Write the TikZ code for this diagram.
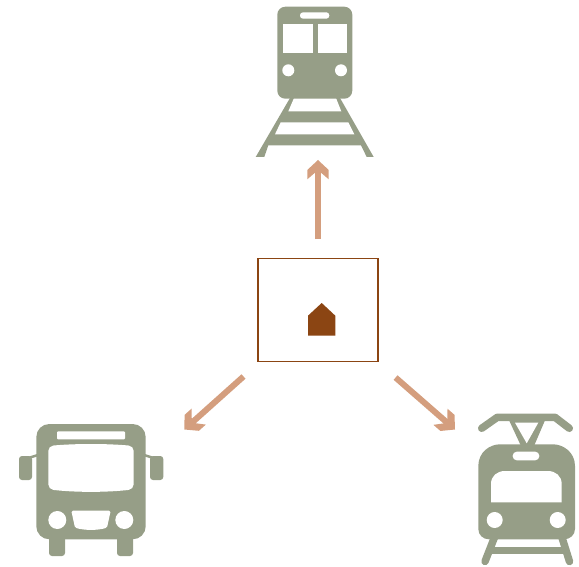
\documentclass[tikz,border=0pt]{standalone}
\usetikzlibrary{arrows.meta}
\definecolor{icongreen}{RGB}{150,158,135}
\definecolor{flowsalmon}{RGB}{212,158,126}
\definecolor{hubbrown}{RGB}{139,69,19}

% Blunt-barbed head used by the three flow arrows.
\pgfdeclarearrow{
  name=flowhead,
  setup code={
    \pgfarrowssettipend{0pt}
    \pgfarrowssetbackend{-19.3pt}
    \pgfarrowssetvisualbackend{-19.3pt}
    \pgfarrowssetlineend{-12pt}
  },
  drawing code={
    \pgfpathmoveto{\pgfqpoint{0pt}{0pt}}
    \pgfpathlineto{\pgfqpoint{-10pt}{10.7pt}}
    \pgfpathlineto{\pgfqpoint{-19.3pt}{10.7pt}}
    \pgfpathlineto{\pgfqpoint{-12.7pt}{3pt}}
    \pgfpathlineto{\pgfqpoint{-12.7pt}{-3pt}}
    \pgfpathlineto{\pgfqpoint{-19.3pt}{-10.7pt}}
    \pgfpathlineto{\pgfqpoint{-10pt}{-10.7pt}}
    \pgfpathclose
    \pgfusepathqfill
  }
}

\begin{document}
\begin{tikzpicture}[
    x=1pt,
    y=-1pt,
    icon/.style={
      fill=icongreen,
      draw=none
    },
    icon line/.style={
      icongreen,
      line width=7.5pt,
      line cap=round,
      line join=round
    },
    icon hole/.style={
      fill=white,
      draw=none
    },
    flow/.style={
      flowsalmon,
      line width=6pt,
      -flowhead
    },
    hub box/.style={
      rectangle,
      draw=hubbrown,
      fill=white,
      line width=1.2pt,
      minimum width=120pt,
      minimum height=103pt,
      inner sep=0pt
    }
]
\useasboundingbox (0,0) rectangle (579,567);

% Central box and its small house.
\node[hub box] (hub) at (318,309.8) {};
\fill[hubbrown] (308,335.7) -- (308,315.7) -- (321.7,303) -- (335.3,315.7)
  -- (335.3,335.7) -- cycle;

% Arrow ends next to the three vehicles.
\coordinate (rail end) at (318,160);
\coordinate (bus end) at (184.3,429.5);
\coordinate (tram end) at (455,429.5);

\draw[flow,shorten <=18.5pt] (hub.north) -- (rail end);
\draw[flow,shorten <=100pt] (hub.center) -- (bus end);
\draw[flow,shorten <=103pt] (hub.center) -- (tram end);

% Train on its track.
\fill[icon] (290,98) -- (255.7,157) -- (264.3,157) -- (268.3,145.3)
  -- (361,145.3) -- (366.7,157) -- (373.7,157) -- (340,98) -- cycle;
\fill[icon hole] (294,98) -- (288.3,111.3) -- (341.3,111.3) -- (336,98) -- cycle;
\fill[icon hole] (280.7,122.3) -- (348.3,122.3) -- (354.3,134.3) -- (275,134.3) -- cycle;
\fill[icon,rounded corners=8pt] (277.3,6.7) rectangle (352.3,98.7);
\fill[icon hole,rounded corners=3pt] (300,12.3) rectangle (329.3,18.7);
\fill[icon hole] (283,23.7) rectangle (312.7,53.3);
\fill[icon hole] (317.7,23.7) rectangle (347.3,53.3);
\foreach \x in {288.3,341}
  \fill[icon hole] (\x,70.3) circle (6pt);

% Bus, front view.
\foreach \x in {49,117}
  \fill[icon,rounded corners=3pt] (\x,530) rectangle (\x+16,556);
\fill[icon,rounded corners=3pt] (19,456) rectangle (32,480);
\fill[icon,rounded corners=3pt] (150,456) rectangle (163.3,480);
\draw[icongreen,line width=2.5pt] (30,457.5) -- (38,455);
\draw[icongreen,line width=2.5pt] (144,455) -- (152,457.5);
\fill[icon,rounded corners=13pt] (36.3,424) rectangle (145.7,539.3);
\fill[icon hole,rounded corners=1pt] (57,431.3) rectangle (125,439.3);
\fill[icon hole,rounded corners=5pt] (48.3,446) .. controls (75,443.5) and (107,443.5) .. (133.7,446)
  -- (133.7,489.3) .. controls (107,492.5) and (75,492.5) .. (48.3,489.3) -- cycle;
\foreach \x in {57.3,124.3}
  \fill[icon hole] (\x,520) circle (9pt);
\fill[icon hole,rounded corners=1.5pt] (71.3,510.7) -- (110.7,510.7) -- (107,527.7)
  .. controls (97,530.5) and (85,530.5) .. (75,527.7) -- cycle;

% Tram with its pantograph.
\draw[icon line] (481.7,428.3) -- (497.3,417.3) -- (555,417.3) -- (569.3,428.3);
\fill[icon] (508,418) -- (521,446) -- (534,446) -- (546,418) -- cycle;
\fill[icon hole] (515,422.7) -- (538.3,422.7) -- (526.7,443.3) -- cycle;
\draw[icon line] (495,536) -- (485,561.5);
\draw[icon line] (561.5,536) -- (569.5,561.5);
\draw[icongreen,line width=6.7pt] (490,550.7) -- (566,550.7);
\fill[icon] (478.3,466) .. controls (478.3,452) and (490,444.3) .. (500,444.3)
  -- (553,444.3) .. controls (563,444.3) and (575,452) .. (575,466)
  -- (575,529) .. controls (575,535) and (570,539.3) .. (564,539.3)
  -- (489,539.3) .. controls (483,539.3) and (478.3,535) .. (478.3,529) -- cycle;
\fill[icon hole,rounded corners=4pt] (512.7,451.7) rectangle (539.3,460.3);
\fill[icon hole] (491,502.3) -- (491,484) .. controls (491,476) and (497,471) .. (505,471)
  -- (547.7,471) .. controls (555.7,471) and (561.7,476) .. (561.7,484) -- (561.7,502.3) -- cycle;
\foreach \x in {494.7,557.7}
  \fill[icon hole] (\x,520) circle (8pt);

\end{tikzpicture}
\end{document}
